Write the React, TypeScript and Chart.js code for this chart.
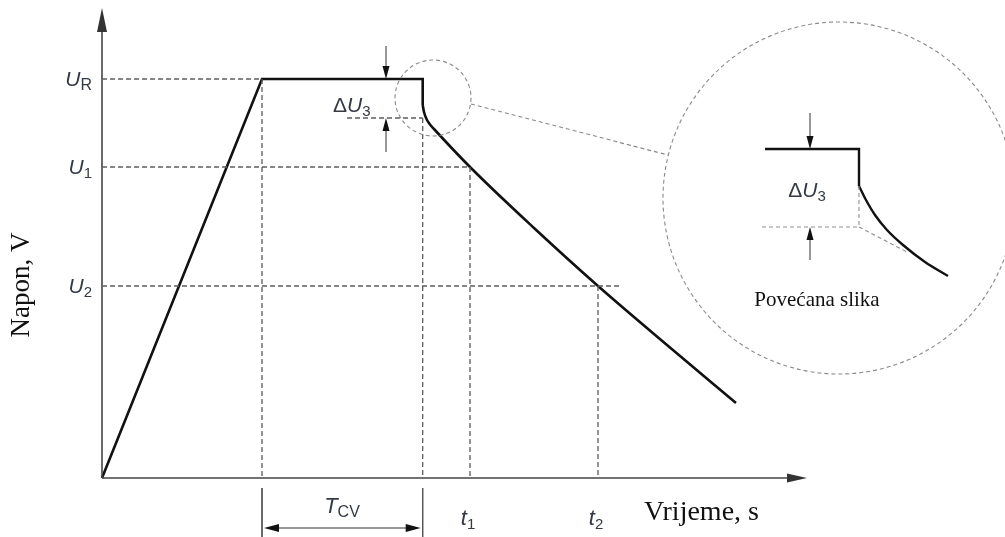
import React, { useEffect, useRef } from "react";
import { Chart, registerables } from "chart.js";
Chart.register(...registerables);

// ---- data (time units on x, voltage units on y) ----
const U_R = 399;
const U_1 = 311;
const U_2 = 192;
const U_DROP = 360; // level after the ΔU3 drop
const T_START = 160; // start of constant voltage
const T_END = 320.7; // end of constant voltage
const T_1 = 368;
const T_2 = 496;

// charge ramp, constant-voltage plateau, instantaneous drop
const rampX = [0, T_START, T_END, T_END];
const rampY = [0, U_R, U_R, 373];
// self-discharge decay after the drop
const decayX = [320.7, 322, 324.5, 328, 332, 368, 432, 496, 565, 634];
const decayY = [373, 366, 359, 353.5, 349, 311, 250, 192, 133, 75];

// magnified inset (same quantities, enlarged)
const insetStepX = [663, 757, 757];
const insetStepY = [329, 329, 292];
const insetDecayX = [757, 764, 773, 785, 801, 823, 846];
const insetDecayY = [292, 278, 263, 248, 233, 216, 202];

// axes extents
const X_AXIS_END = 705;
const Y_AXIS_END = 470;

const tickLabelsY = [
  { main: "U", sub: "R", v: U_R },
  { main: "U", sub: "1", v: U_1 },
  { main: "U", sub: "2", v: U_2 },
];
const tickLabelsX = [
  { main: "t", sub: "1", v: T_1 },
  { main: "t", sub: "2", v: T_2 },
];

const pts = (xs: number[], ys: number[]) => xs.map((x, i) => ({ x, y: ys[i] }));

type Part = { t: string; it?: boolean; sub?: boolean; size?: number };

function drawParts(
  ctx: CanvasRenderingContext2D,
  parts: Part[],
  x: number,
  y: number,
  align: "left" | "right" | "center",
  color = "#333a44"
) {
  const fontOf = (p: Part) =>
    `${p.it ? "italic " : ""}${p.size ?? (p.sub ? 15 : 21)}px "Liberation Sans", Arial, sans-serif`;
  let w = 0;
  for (const p of parts) {
    ctx.font = fontOf(p);
    w += ctx.measureText(p.t).width;
  }
  let cx = align === "left" ? x : align === "right" ? x - w : x - w / 2;
  ctx.fillStyle = color;
  ctx.textAlign = "left";
  ctx.textBaseline = "alphabetic";
  for (const p of parts) {
    ctx.font = fontOf(p);
    ctx.fillText(p.t, cx, p.sub ? y + 4 : y);
    cx += ctx.measureText(p.t).width;
  }
}

function arrowHead(
  ctx: CanvasRenderingContext2D,
  tipX: number,
  tipY: number,
  dirX: number,
  dirY: number,
  len: number,
  half: number,
  color: string
) {
  const bx = tipX - dirX * len;
  const by = tipY - dirY * len;
  const px = -dirY;
  const py = dirX;
  ctx.fillStyle = color;
  ctx.beginPath();
  ctx.moveTo(tipX, tipY);
  ctx.lineTo(bx + px * half, by + py * half);
  ctx.lineTo(bx - px * half, by - py * half);
  ctx.closePath();
  ctx.fill();
}

const annotations = {
  id: "annotations",
  afterDatasetsDraw(chart: any) {
    const ctx: CanvasRenderingContext2D = chart.ctx;
    const X = (v: number) => chart.scales.x.getPixelForValue(v);
    const Y = (v: number) => chart.scales.y.getPixelForValue(v);
    const unit = X(1) - X(0);
    ctx.save();

    // axis arrowheads
    arrowHead(ctx, X(0), Y(Y_AXIS_END), 0, -1, 24, 5, "#333");
    arrowHead(ctx, X(X_AXIS_END), Y(0), 1, 0, 20, 4.5, "#333");

    // small vertical arrows (ΔU3)
    const smallArrow = (x: number, from: number, to: number) => {
      const dir = Y(to) > Y(from) ? 1 : -1;
      ctx.strokeStyle = "#333";
      ctx.lineWidth = 1;
      ctx.setLineDash([]);
      ctx.beginPath();
      ctx.moveTo(X(x), Y(from));
      ctx.lineTo(X(x), Y(to) - dir * 10);
      ctx.stroke();
      arrowHead(ctx, X(x), Y(to), 0, dir, 13, 3.5, "#111");
    };
    smallArrow(284, 432, U_R);
    smallArrow(284, 326, U_DROP);
    smallArrow(708, 365, 329);
    smallArrow(708, 218, 251);

    // T_CV double arrow
    const ya = Y(-50);
    ctx.strokeStyle = "#333";
    ctx.lineWidth = 1;
    ctx.beginPath();
    ctx.moveTo(X(T_START) + 10, ya);
    ctx.lineTo(X(T_END) - 10, ya);
    ctx.stroke();
    arrowHead(ctx, X(T_START) + 2, ya, -1, 0, 15, 4, "#111");
    arrowHead(ctx, X(T_END) - 2, ya, 1, 0, 15, 4, "#111");

    // circles
    ctx.strokeStyle = "#8a8a8a";
    ctx.lineWidth = 1.1;
    ctx.setLineDash([4, 3]);
    ctx.beginPath();
    ctx.arc(X(331), Y(380), 38 * unit, 0, Math.PI * 2);
    ctx.stroke();
    ctx.beginPath();
    ctx.arc(X(737), Y(280), 176 * unit, 0, Math.PI * 2);
    ctx.stroke();
    ctx.beginPath();
    ctx.moveTo(X(369), Y(374));
    ctx.lineTo(X(566), Y(323));
    ctx.stroke();
    ctx.setLineDash([]);

    // axis tick labels
    for (const l of tickLabelsY) {
      drawParts(ctx, [{ t: l.main, it: true }, { t: l.sub, sub: true, size: l.sub === "R" ? 16 : 15 }], X(-10), Y(l.v) + 7, "right");
    }
    for (const l of tickLabelsX) {
      drawParts(ctx, [{ t: l.main, it: true, size: 22 }, { t: l.sub, sub: true }], X(l.v) - 2, Y(0) + 47, "center");
    }
    // ΔU3 labels
    drawParts(ctx, [{ t: "Δ" }, { t: "U", it: true }, { t: "3", sub: true }], X(231), Y(U_DROP) - 6, "left");
    drawParts(ctx, [{ t: "Δ" }, { t: "U", it: true }, { t: "3", sub: true }], X(705), Y(288) + 7, "center");
    // T_CV
    drawParts(ctx, [{ t: "T", it: true, size: 22 }, { t: "CV", sub: true, size: 16 }], X(240), Y(0) + 35, "center");

    // axis titles (serif)
    ctx.fillStyle = "#111";
    ctx.font = '28px "Liberation Serif", "Times New Roman", serif';
    ctx.textAlign = "left";
    ctx.textBaseline = "middle";
    ctx.fillText("Vrijeme, s", X(542), Y(0) + 35);
    ctx.save();
    ctx.translate(X(-80), Y(193));
    ctx.rotate(-Math.PI / 2);
    ctx.textAlign = "center";
    ctx.font = '27px "Liberation Serif", "Times New Roman", serif';
    ctx.fillText("Napon, V", 0, 0);
    ctx.restore();
    ctx.font = '21px "Liberation Serif", "Times New Roman", serif';
    ctx.textAlign = "center";
    ctx.fillText("Povećana slika", X(715), Y(178));

    ctx.restore();
  },
};

export default function App() {
  const ref = useRef<HTMLCanvasElement | null>(null);
  useEffect(() => {
    if (!ref.current) return;
    const dashed = {
      borderColor: "#5c5c5c",
      borderWidth: 1.3,
      borderDash: [5, 3],
      pointRadius: 0,
      showLine: true,
      fill: false,
    };
    const insetDashed = { ...dashed, borderColor: "#8f8f8f", borderWidth: 1.1, borderDash: [4, 3] };
    const solid = (c: string, w: number) => ({
      borderColor: c,
      borderWidth: w,
      pointRadius: 0,
      showLine: true,
      fill: false,
    });
    const chart = new Chart(ref.current, {
      type: "scatter",
      data: {
        datasets: [
          // guide lines
          { ...dashed, data: pts([0, T_START], [U_R, U_R]) },
          { ...dashed, data: pts([T_START, T_START], [U_R, 0]) },
          { ...dashed, data: pts([0, T_1], [U_1, U_1]) },
          { ...dashed, data: pts([T_1, T_1], [U_1, 0]) },
          { ...dashed, data: pts([0, 518], [U_2, U_2]) },
          { ...dashed, data: pts([T_2, T_2], [U_2, 0]) },
          { ...dashed, data: pts([245, T_END], [U_DROP, U_DROP]) },
          { ...dashed, data: pts([T_END, T_END], [U_DROP, 0]) },
          // inset guides
          { ...insetDashed, data: pts([660, 757], [251, 251]) },
          { ...insetDashed, data: pts([757, 757], [292, 251]) },
          { ...insetDashed, data: pts([757, 805], [251, 226]) },
          // axes
          { ...solid("#444", 1.6), data: pts([0, 0], [0, Y_AXIS_END - 22]) },
          { ...solid("#444", 1.6), data: pts([0, X_AXIS_END - 18], [0, 0]) },
          // T_CV extension lines
          { ...solid("#555", 1), data: pts([T_START, T_START], [-10, -60]) },
          { ...solid("#555", 1), data: pts([T_END, T_END], [-10, -60]) },
          // main curve
          { ...solid("#111", 2.6), data: pts(rampX, rampY), borderJoinStyle: "miter" },
          { ...solid("#111", 2.6), data: pts(decayX, decayY), cubicInterpolationMode: "monotone" },
          // inset curve
          { ...solid("#111", 2.4), data: pts(insetStepX, insetStepY), borderJoinStyle: "miter" },
          { ...solid("#111", 2.4), data: pts(insetDecayX, insetDecayY), cubicInterpolationMode: "monotone" },
        ] as any,
      },
      options: {
        animation: false,
        responsive: false,
        devicePixelRatio: 1,
        events: [],
        layout: { padding: 0 },
        plugins: { legend: { display: false }, tooltip: { enabled: false } },
        scales: {
          x: { type: "linear", min: -102, max: 903, display: false },
          y: { type: "linear", min: -59, max: 478, display: false },
        },
      },
      plugins: [annotations],
    });
    return () => chart.destroy();
  }, []);
  return (
    <div style={{ position: "fixed", left: 0, top: 0, width: 1005, height: 537, background: "#fff" }}>
      <canvas ref={ref} width={1005} height={537} style={{ display: "block" }} />
    </div>
  );
}
